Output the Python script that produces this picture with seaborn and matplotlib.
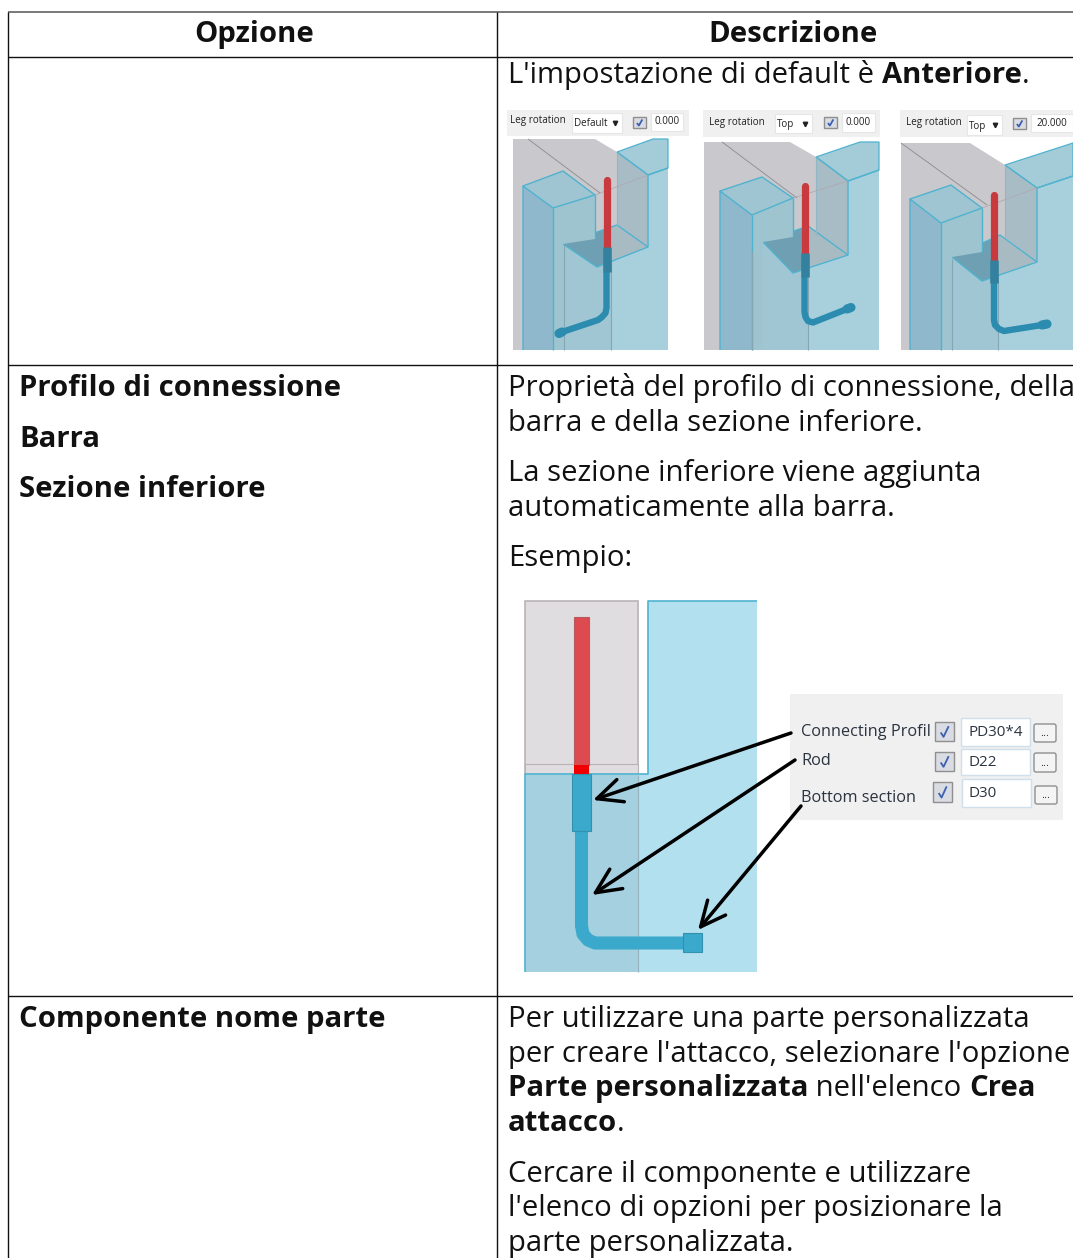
import matplotlib
matplotlib.use('Agg')
import matplotlib.pyplot as plt
from matplotlib.patches import Polygon, Rectangle, FancyBboxPatch
import seaborn as sns

sns.set_theme(style='white')
plt.rcParams['font.family'] = ['Open Sans', 'DejaVu Sans']

# table text
header_labels = ['Opzione', 'Descrizione']
left_cells = [('Profilo di connessione', 396), ('Barra', 447), ('Sezione inferiore', 497),
              ('Componente nome parte', 1027)]
right_lines = [
    (83, [("L'impostazione di default è ", False), ('Anteriore', True), ('.', False)]),
    (396, [('Proprietà del profilo di connessione, della', False)]),
    (431, [('barra e della sezione inferiore.', False)]),
    (481, [('La sezione inferiore viene aggiunta', False)]),
    (516, [('automaticamente alla barra.', False)]),
    (566, [('Esempio:', False)]),
    (1027, [('Per utilizzare una parte personalizzata', False)]),
    (1062, [("per creare l'attacco, selezionare l'opzione", False)]),
    (1096, [('Parte personalizzata', True), (" nell'elenco ", False), ('Crea', True)]),
    (1131, [('attacco', True), ('.', False)]),
    (1182, [('Cercare il componente e utilizzare', False)]),
    (1216, [("l'elenco di opzioni per posizionare la", False)]),
    (1251, [('parte personalizzata.', False)]),
]
row_lines = [57, 365, 996]

# the three "Leg rotation" screenshots
scenes = [
    dict(box=(513, 139, 668, 350), panel=(507, 110, 689, 136), label_x=510, label_y=121,
         combo=(572, 113, 622, 133), combo_text='Default', check=(633, 117, 646, 128),
         field=(651, 113, 683, 131), value='0.000',
         wall_x=595, wall_line=[(528, 139), (600, 193)],
         pillar=[(523, 186), (563, 171), (595, 195), (553, 208)],
         plate=[(563, 244), (597, 267), (648, 247), (617, 225)],
         block=[(617, 152), (653, 139), (668, 139), (668, 168), (648, 175)], inner_y=225,
         v_lines=[564, 611],
         red=[(606.5, 180), (606.5, 247)], sleeve=[(606.5, 247), (606.5, 272)],
         rod=[(606.5, 272), (606.5, 308), (605.5, 313), (602, 317), (598, 320), (562, 332)],
         tip=[(562, 332), (559, 333.5)]),
    dict(box=(704, 142, 879, 350), panel=(703, 110, 880, 137), label_x=709, label_y=122,
         combo=(775, 114, 812, 133), combo_text='Top', check=(824, 117, 837, 128),
         field=(842, 113, 875, 132), value='0.000',
         wall_x=790, wall_line=[(722, 142), (797, 198)],
         pillar=[(720, 191), (762, 177), (793, 198), (752, 215)],
         plate=[(763, 242), (793, 273), (848, 255), (808, 226)],
         block=[(816, 157), (860, 142), (879, 142), (879, 170), (848, 181)], inner_y=235,
         v_lines=[752, 808],
         red=[(804.5, 186), (804.5, 253)], sleeve=[(804.5, 253), (804.5, 277)],
         rod=[(804.5, 277), (804.5, 312), (805.5, 317), (808, 321), (813, 322.5), (847, 309)],
         tip=[(847, 309), (851, 307.5)]),
    dict(box=(901, 143, 1073, 350), panel=(900, 110, 1073, 137), label_x=906, label_y=123,
         combo=(967, 115, 1002, 135), combo_text='Top', check=(1013, 118, 1026, 129),
         field=(1031, 114, 1073, 132), value='20.000',
         wall_x=970, wall_line=[(901, 143), (987, 205)],
         pillar=[(910, 199), (951, 185), (982, 208), (941, 223)],
         plate=[(952, 257), (982, 281), (1037, 262), (1000, 235)],
         block=[(1005, 165), (1073, 143), (1073, 143), (1073, 176), (1037, 188)], inner_y=238,
         v_lines=[952, 998],
         red=[(993.5, 195), (993.5, 260)], sleeve=[(993.5, 260), (993.5, 283)],
         rod=[(994, 283), (994, 320), (995, 325), (999, 329), (1004, 331), (1042, 325)],
         tip=[(1042, 325), (1047, 324)]),
]

# example screenshot
example_rod = [(581.5, 831), (581.5, 926), (583, 934), (588, 940), (595, 943), (683, 943)]
example_arrows = [((791, 733), (593, 800)), ((795, 760), (592, 895)), ((801, 806), (698, 930))]
example_rows = [
    ('Connecting Profil', 731, (935, 722, 954, 741), (961, 718, 1030, 746), 'PD30*4', (1034, 724, 1056, 742)),
    ('Rod', 760, (935, 752, 954, 771), (961, 749, 1030, 775), 'D22', (1034, 753, 1056, 772)),
    ('Bottom section', 797, (933, 782, 952, 802), (962, 779, 1031, 807), 'D30', (1035, 786, 1057, 804)),
]

fig = plt.figure(figsize=(10.73, 12.58), dpi=100)
ax = fig.add_axes([0, 0, 1, 1])
ax.axis('off')
renderer = fig.canvas.get_renderer()

BODY = 21.05
INK = '#111111'
EDGE = '#4fb3cf'


def box(b, color, z=1, edge='none', lw=0.8):
    ax.add_patch(Rectangle((b[0], b[1]), b[2] - b[0], b[3] - b[1], fc=color, ec=edge, lw=lw, zorder=z))


def poly(pts, color, z=2, edge='none', lw=0.9):
    ax.add_patch(Polygon(pts, closed=True, fc=color, ec=edge, lw=lw, zorder=z))


def line(pts, color, lw, z=5, cap='butt'):
    # pipes and lines go through seaborn so the joins stay smooth
    sns.lineplot(x=[p[0] for p in pts], y=[p[1] for p in pts], ax=ax, color=color, sort=False,
                 estimator=None, errorbar=None, linewidth=lw, zorder=z,
                 solid_capstyle=cap, solid_joinstyle='round')


def width(s, weight):
    t1 = ax.text(0, 0, s + '|', fontsize=BODY, fontweight=weight)
    t2 = ax.text(0, 0, '|', fontsize=BODY, fontweight=weight)
    w = t1.get_window_extent(renderer).width - t2.get_window_extent(renderer).width
    t1.remove()
    t2.remove()
    return w


def runs(x, y, parts):
    for s, bold in parts:
        weight = 'bold' if bold else 'normal'
        ax.text(x, y, s, fontsize=BODY, fontweight=weight, color=INK, va='baseline', ha='left', zorder=10)
        x += width(s, weight)


def checkbox(b):
    box(b, '#d9dce3', z=6, edge='#8f8f8f', lw=1)
    w, h = b[2] - b[0], b[3] - b[1]
    line([(b[0] + w * .3, b[1] + h * .55), (b[0] + w * .45, b[1] + h * .78), (b[0] + w * .72, b[1] + h * .22)],
         '#3d5fb0', 1.3, z=7)


def y_at(a, b, x):
    return a[1] + (b[1] - a[1]) * (x - a[0]) / (b[0] - a[0])


def draw_scene(s):
    x0, y0, x1, y1 = s['box']
    ia, top, tr, br, ib = s['block']
    pl, pf, pb, pk = s['plate']
    ic = (ia[0], s['inner_y'])
    tl, tb, tc, tf = s['pillar']
    v1, v2 = s['v_lines']
    rx = s['red'][0][0]

    # toolbar above the picture
    box(s['panel'], '#f0f0f0')
    ax.text(s['label_x'], s['label_y'], 'Leg rotation', fontsize=7.1, color='#222222', va='center', zorder=6)
    box(s['combo'], 'white', z=2, edge='#e6e6e6')
    ax.text(s['combo'][0] + 2, (s['combo'][1] + s['combo'][3]) / 2 + 1, s['combo_text'], fontsize=7.1,
            color='#222222', va='center', zorder=6)
    ax.plot([s['combo'][2] - 7], [(s['combo'][1] + s['combo'][3]) / 2], marker='v', ms=3.2, color='#222222', zorder=6)
    checkbox(s['check'])
    box(s['field'], 'white', z=2, edge='#e6e6e6')
    ax.text((s['field'][0] + s['field'][2]) / 2, (s['field'][1] + s['field'][3]) / 2, s['value'], fontsize=7.1,
            color='#222222', va='center', ha='center', zorder=6)

    # back wall and blocks
    poly([(x0, y0), (s['wall_x'], y0), ia, (ia[0], y1), (x0, y1)], '#c9c8cc', z=1.5)
    poly([ib, br, (x1, y1), (v2, y1), (v2, pf[1] - 8), pb], '#a8d0dc', z=2)
    poly([ia, top, tr, br, ib], '#a4ccd8', z=2, edge=EDGE)
    poly([ia, ib, pb, ic], '#a8bcc6', z=2.2)
    poly([pl, pf, (v2, pf[1] - 5), (v2, y1), (pl[0], y1)], '#9fc6d2', z=2.4)
    poly([pl, pf, pb, pk], '#a9bbc2', z=2.6)
    poly([pl, pf, (rx, y_at(pf, pb, rx)), (rx, y_at(pl, pk, rx))], '#6f9fb2', z=2.7)
    line([pl, pf, pb, pk, pl], EDGE, 1, z=3)
    line([pb, ib, ia], EDGE, 1, z=3)
    line([ib, br], EDGE, 1, z=3)
    line([ia, ic], '#8fb7c4', 0.8, z=3)
    line([tc, ib], '#b0a8b0', 0.6, z=3)
    line([tc, (tc[0], pk[1] + 3)], '#b0a8b0', 0.6, z=3)

    # pillar
    poly([tf, tc, (tc[0], pl[1] - 5), pl, (pl[0], y1), (tf[0], y1)], '#9ec4d0', z=3.2)
    poly([tl, tf, (tf[0], y1), (tl[0], y1)], '#8fb8cc', z=3.3)
    poly([tl, tb, tc, tf], '#9fc4d2', z=3.4)
    line([(tl[0], y1), tl, tb, tc, tf, tl], EDGE, 1, z=3.6)
    line([tf, (tf[0], y1)], EDGE, 1, z=3.6)
    line([tc, (tc[0], pl[1] - 5)], EDGE, 1, z=3.6)
    line(s['wall_line'], '#8a8a90', 0.6, z=1.8)
    for vx in (v1, v2):
        line([(vx, pf[1] - 22 if vx == v1 else pf[1] - 6), (vx, y1)], '#84a7b3', 0.8, z=3.7)

    # pipe
    line(s['red'], '#c83a3e', 5.2, z=5, cap='round')
    line(s['sleeve'], '#33819e', 6.2, z=5.2)
    line(s['rod'], '#2b8cb0', 4.6, z=5.1)
    line(s['tip'], '#2b8cb0', 6.6, z=5.2, cap='round')


def draw_example():
    box((525, 601, 638, 774), '#e0dde0', z=2, edge='#b9b3b8', lw=1.2)
    box((525, 764, 638, 774), '#e0dde0', z=2.1, edge='#b9b3b8', lw=0.8)
    poly([(648, 601), (757, 601), (757, 972), (525, 972), (525, 774), (648, 774)], '#b3e0ee', z=2.2)
    line([(757, 601), (648, 601), (648, 774), (525, 774), (525, 972)], '#4fb3cf', 1.2, z=2.6)
    box((525, 775, 638, 972), '#a5d0df', z=2.4)
    line([(638, 775), (638, 972)], '#97b4bf', 0.9, z=2.5)
    box((574, 617, 589, 765), '#dd4a50', z=3, edge='#b65a60', lw=0.8)
    box((574, 765, 589, 774), '#f00000', z=3)
    line(example_rod, '#3aa9cc', 9.4, z=3.2)
    box((572, 774, 591, 831), '#3aa9cc', z=3.4, edge='#3391b0', lw=0.8)
    box((683, 933, 702, 952), '#3aa9cc', z=3.4, edge='#3391b0', lw=0.8)

    box((790, 694, 1063, 820), '#f0f0f0', z=2)
    for label, y, chk, fld, val, btn in example_rows:
        ax.text(801, y + 1, label, fontsize=11.7, color='#2a3340', va='center', zorder=7)
        checkbox(chk)
        box(fld, 'white', z=3, edge='#cfe0ec', lw=1)
        ax.text(fld[0] + 7, (fld[1] + fld[3]) / 2 + 0.5, val, fontsize=11, color='#2a3340', va='center', zorder=7)
        ax.add_patch(FancyBboxPatch((btn[0] + 2, btn[1] + 2), btn[2] - btn[0] - 4, btn[3] - btn[1] - 4,
                                    boxstyle='round,pad=2', fc='#f4f4f4', ec='#8f8f8f', lw=1, zorder=3))
        ax.text((btn[0] + btn[2]) / 2, (btn[1] + btn[3]) / 2 + 1, '...', fontsize=8, color='#333333',
                ha='center', va='center', zorder=7)

    for start, end in example_arrows:
        ax.annotate('', xy=end, xytext=start, zorder=9,
                    arrowprops=dict(arrowstyle='->,head_length=0.9,head_width=0.42', color='black', lw=2.5,
                                    mutation_scale=20, shrinkA=0, shrinkB=0))


# table frame
line([(7.5, 12), (1073, 12)], '#555555', 1.1, z=8)
line([(7.5, 12), (7.5, 1258)], '#111111', 1.0, z=8)
line([(496.5, 12), (496.5, 1258)], '#111111', 1.0, z=8)
for y in row_lines:
    line([(7.5, y), (1073, y)], '#111111', 1.0, z=8)

ax.text(254, 42, header_labels[0], fontsize=BODY, fontweight='bold', color=INK, ha='center', va='baseline')
ax.text(793, 42, header_labels[1], fontsize=BODY, fontweight='bold', color=INK, ha='center', va='baseline')
for label, y in left_cells:
    runs(19, y, [(label, True)])
for y, parts in right_lines:
    runs(508, y, parts)

for s in scenes:
    draw_scene(s)
draw_example()

ax.set_xlim(0, 1073)
ax.set_ylim(1258, 0)
ax.set_xlabel('')
ax.set_ylabel('')
fig.savefig('out.png', dpi=100, facecolor='white')
